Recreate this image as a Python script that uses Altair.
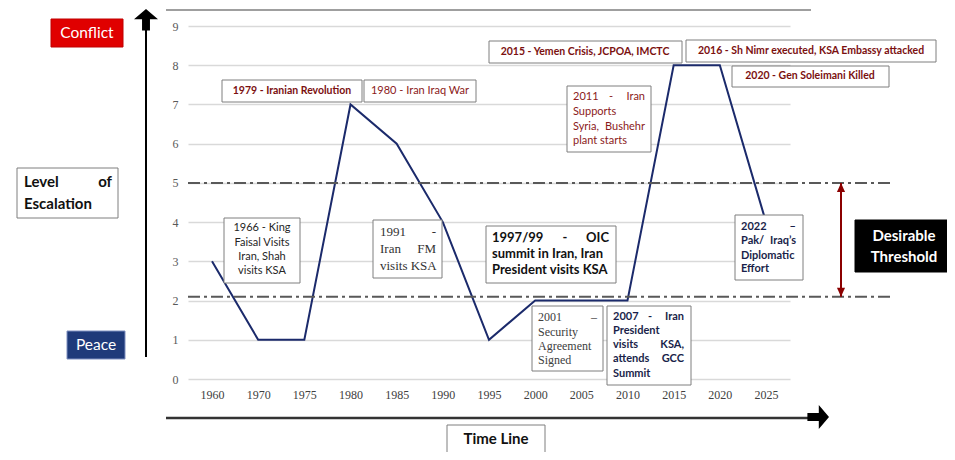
import altair as alt
import pandas as pd

# ---------------- data ----------------
years = ["1960", "1970", "1975", "1980", "1985", "1990", "1995",
         "2000", "2005", "2010", "2015", "2020", "2025"]
levels = [3, 1, 1, 7, 6, 4, 1, 2, 2, 2, 8, 8, 4]
thresholds = [5, 2.1]
y_ticks = list(range(10))

# ---------------- layout helpers (page pixels -> plot pixels) ----------------
W, H = 602, 353
OX, OY = 188, 26


def px(x):
    return x - OX


def py(y):
    return y - OY


# boxes: x0, x1, y0, y1 (page px), fill, stroke
boxes = [
    (51, 123, 19, 47, "#e00000", "#c00000"),
    (67, 125, 331, 359, "#1f3a7a", "#7f8fc0"),
    (17, 118, 168, 218, "#ffffff", "#7f7f7f"),
    (855, 953, 220, 272, "#000000", "#000000"),
    (447, 545, 425, 453, "#ffffff", "#7f7f7f"),
    (224, 300, 218, 283, "#ffffff", "#7f7f7f"),
    (222, 362, 80, 102, "#ffffff", "#7f7f7f"),
    (364, 476, 80, 102, "#ffffff", "#7f7f7f"),
    (373, 442, 220, 278, "#ffffff", "#7f7f7f"),
    (486, 616, 226, 283, "#ffffff", "#7f7f7f"),
    (532, 603, 306, 371, "#ffffff", "#7f7f7f"),
    (607, 691, 306, 385, "#ffffff", "#7f7f7f"),
    (567, 651, 86, 152, "#ffffff", "#7f7f7f"),
    (489, 682, 41, 63, "#ffffff", "#7f7f7f"),
    (686, 936, 40, 62, "#ffffff", "#7f7f7f"),
    (732, 889, 66, 87, "#ffffff", "#7f7f7f"),
    (735, 803, 215, 280, "#ffffff", "#7f7f7f"),
]
box_df = pd.DataFrame([
    dict(x0=px(a), x1=px(b), y0=py(c), y1=py(d), fill=f, stroke=s)
    for a, b, c, d, f, s in boxes
])

styles = {
    "cal": dict(font="Lato", fontSize=11, fontWeight="normal", color="#262626"),
    "redb": dict(font="Lato", fontSize=10.5, fontWeight="bold", color="#7b1010"),
    "red": dict(font="Lato", fontSize=11, fontWeight="normal", color="#8b1a1a"),
    "serif": dict(font="Liberation Serif", fontSize=13, fontWeight="normal", color="#333333"),
    "serif12": dict(font="Liberation Serif", fontSize=12, fontWeight="normal", color="#404040"),
    "blk13": dict(font="Lato", fontSize=13, fontWeight="bold", color="#111111"),
    "navyb": dict(font="Lato", fontSize=11, fontWeight="bold", color="#1a1f4a"),
    "white15": dict(font="Lato", fontSize=15.5, fontWeight="normal", color="#ffffff"),
    "whiteb15": dict(font="Lato", fontSize=15, fontWeight="bold", color="#ffffff"),
    "blkb15": dict(font="Lato", fontSize=15, fontWeight="bold", color="#111111"),
}

# text rows: x, y (page px), text, align, style
texts = [
    (87, 33, "Conflict", "center", "white15"),
    (96, 345, "Peace", "center", "white15"),
    (24, 182, "Level", "left", "blkb15"),
    (112, 182, "of", "right", "blkb15"),
    (24, 204, "Escalation", "left", "blkb15"),
    (904, 236, "Desirable", "center", "whiteb15"),
    (904, 257, "Threshold", "center", "whiteb15"),
    (496, 439, "Time Line", "center", "blkb15"),
    (262, 228, "1966 - King", "center", "cal"),
    (262, 243, "Faisal Visits", "center", "cal"),
    (262, 257, "Iran, Shah", "center", "cal"),
    (262, 271, "visits KSA", "center", "cal"),
    (292, 91, "1979 - Iranian Revolution", "center", "redb"),
    (420, 91, "1980 - Iran Iraq War", "center", "red"),
    (380, 232, "1991", "left", "serif"),
    (436, 232, "-", "right", "serif"),
    (380, 249, "Iran", "left", "serif"),
    (436, 249, "FM", "right", "serif"),
    (380, 266, "visits KSA", "left", "serif"),
    (492, 238, "1997/99", "left", "blk13"),
    (565, 238, "-", "center", "blk13"),
    (609, 238, "OIC", "right", "blk13"),
    (492, 254, "summit in Iran, Iran", "left", "blk13"),
    (492, 270, "President visits KSA", "left", "blk13"),
    (538, 317, "2001", "left", "serif12"),
    (597, 317, "\u2013", "right", "serif12"),
    (538, 332, "Security", "left", "serif12"),
    (538, 346, "Agreement", "left", "serif12"),
    (538, 360, "Signed", "left", "serif12"),
    (613, 317, "2007", "left", "navyb"),
    (650, 317, "-", "center", "navyb"),
    (684, 317, "Iran", "right", "navyb"),
    (613, 331, "President", "left", "navyb"),
    (613, 345, "visits", "left", "navyb"),
    (684, 345, "KSA,", "right", "navyb"),
    (613, 359, "attends", "left", "navyb"),
    (684, 359, "GCC", "right", "navyb"),
    (613, 374, "Summit", "left", "navyb"),
    (573, 97, "2011", "left", "red"),
    (611, 97, "-", "center", "red"),
    (645, 97, "Iran", "right", "red"),
    (573, 112, "Supports", "left", "red"),
    (573, 127, "Syria,", "left", "red"),
    (645, 127, "Bushehr", "right", "red"),
    (573, 141, "plant starts", "left", "red"),
    (585, 52, "2015 - Yemen Crisis, JCPOA, IMCTC", "center", "redb"),
    (811, 51, "2016 - Sh Nimr executed, KSA Embassy attacked", "center", "redb"),
    (810, 76, "2020 - Gen Soleimani Killed", "center", "redb"),
    (741, 227, "2022", "left", "navyb"),
    (796, 227, "\u2013", "right", "navyb"),
    (741, 241, "Pak/", "left", "navyb"),
    (796, 241, "Iraq\u2019s", "right", "navyb"),
    (741, 256, "Diplomatic", "left", "navyb"),
    (741, 269, "Effort", "left", "navyb"),
]
text_df = pd.DataFrame([
    dict(px=px(x), py=py(y), text=t, align=a, style=s) for x, y, t, a, s in texts
])

# ---------------- chart ----------------
df = pd.DataFrame({"year": years, "level": levels})
yscale = alt.Scale(domain=[0, 9])

line = alt.Chart(df).mark_line(color="#1b2a6b", strokeWidth=2).encode(
    x=alt.X("year:O", scale=alt.Scale(type="point", padding=0.52),
            axis=alt.Axis(title=None, labelAngle=0, domain=False, ticks=False,
                          labelFont="Liberation Serif", labelFontSize=12,
                          labelColor="#404040", labelPadding=10, grid=False)),
    y=alt.Y("level:Q", scale=yscale,
            axis=alt.Axis(title=None, values=y_ticks, domain=False, ticks=False,
                          labelFont="Liberation Serif", labelFontSize=12,
                          labelColor="#595959", labelPadding=10,
                          gridColor="#d9d9d9", gridWidth=1.5)),
)

dash = alt.Chart(pd.DataFrame({"t": thresholds})).mark_rule(
    color="#595959", strokeWidth=2, strokeDash=[12, 4, 3, 4]
).encode(
    y=alt.Y("t:Q", scale=yscale, axis=None),
    x=alt.value(0), x2=alt.value(px(893)),
)

red_rule = alt.Chart(pd.DataFrame({"a": [thresholds[0]], "b": [thresholds[1]]})).mark_rule(
    color="#8b0000", strokeWidth=2
).encode(
    x=alt.value(px(841)),
    y=alt.Y("a:Q", scale=yscale, axis=None), y2="b:Q",
)
red_up = alt.Chart(pd.DataFrame({"t": [thresholds[0]]})).mark_point(
    shape="M0,0 L0.45,1 L-0.45,1 Z", size=324, filled=True, color="#8b0000", opacity=1
).encode(x=alt.value(px(841)), y=alt.Y("t:Q", scale=yscale, axis=None))
red_dn = alt.Chart(pd.DataFrame({"t": [thresholds[1]]})).mark_point(
    shape="M0,0 L0.45,-1 L-0.45,-1 Z", size=324, filled=True, color="#8b0000", opacity=1
).encode(x=alt.value(px(841)), y=alt.Y("t:Q", scale=yscale, axis=None))

# frame lines and arrows
top_line = alt.Chart(pd.DataFrame({"k": [0]})).mark_rule(color="#7f7f7f", strokeWidth=1.5).encode(
    x=alt.value(px(166)), x2=alt.value(px(811)), y=alt.value(py(10)))
vline = alt.Chart(pd.DataFrame({"k": [0]})).mark_rule(color="#000000", strokeWidth=2).encode(
    x=alt.value(px(146)), y=alt.value(py(357)), y2=alt.value(py(28)))
vhead = alt.Chart(pd.DataFrame({"k": [0]})).mark_point(
    shape="M0,0 L1,0.85 L0.33,0.85 L0.33,1.8 L-0.33,1.8 L-0.33,0.85 L-1,0.85 Z",
    size=576, filled=True, color="#000000", opacity=1
).encode(x=alt.value(px(146)), y=alt.value(py(9)))
hline = alt.Chart(pd.DataFrame({"k": [0]})).mark_rule(color="#333333", strokeWidth=2.5).encode(
    x=alt.value(px(166)), x2=alt.value(px(812)), y=alt.value(py(418)))
hhead = alt.Chart(pd.DataFrame({"k": [0]})).mark_point(
    shape="M0,0 L-0.85,-1 L-0.85,-0.33 L-1.8,-0.33 L-1.8,0.33 L-0.85,0.33 L-0.85,1 Z",
    size=576, filled=True, color="#000000", opacity=1
).encode(x=alt.value(px(829)), y=alt.value(py(417)))

rects = alt.Chart(box_df).mark_rect(strokeWidth=1).encode(
    x=alt.X("x0:Q", scale=None, axis=None), x2="x1:Q",
    y=alt.Y("y0:Q", scale=None, axis=None), y2="y1:Q",
    fill=alt.Fill("fill:N", scale=None),
    stroke=alt.Stroke("stroke:N", scale=None),
)

text_layers = []
for (st, al), sub in text_df.groupby(["style", "align"]):
    sty = styles[st]
    text_layers.append(
        alt.Chart(sub.reset_index(drop=True)).mark_text(
            align=al, baseline="middle", font=sty["font"], fontSize=sty["fontSize"],
            fontWeight=sty["fontWeight"], color=sty["color"]
        ).encode(
            x=alt.X("px:Q", scale=None, axis=None),
            y=alt.Y("py:Q", scale=None, axis=None),
            text="text:N",
        )
    )

chart = alt.layer(
    line, dash, red_rule, red_up, red_dn, top_line, vline, vhead, hline, hhead,
    rects, *text_layers
).resolve_scale(x="independent", y="independent").properties(
    width=W, height=H,
    padding={"left": 180, "top": 18, "right": 157, "bottom": 73},
    autosize=alt.AutoSizeParams(type="none"),
    background="#ffffff",
).configure_view(stroke=None)

chart.save("out.html", embed_options={"renderer": "svg", "actions": False})
